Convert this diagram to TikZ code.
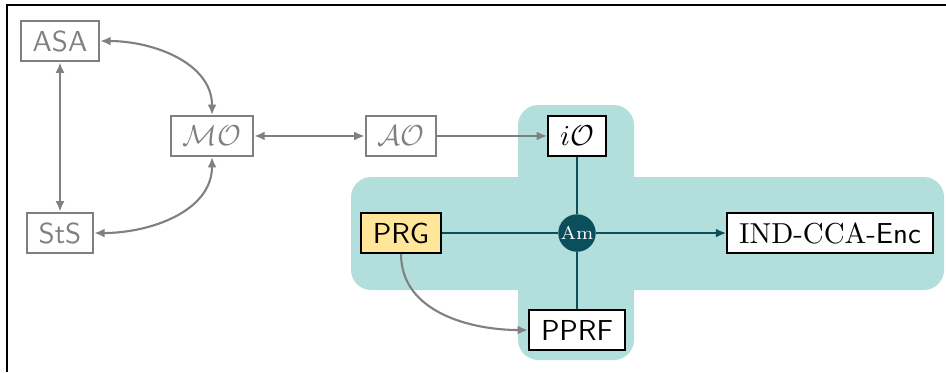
\documentclass[11pt,tikz,border=0pt]{standalone}
\usepackage{amsmath}
\usepackage{amssymb}
\usepackage{xcolor}
\usetikzlibrary{arrows.meta}

\definecolor{amteal}{HTML}{0B4F5C}
\definecolor{amback}{HTML}{B2DFDB}
\definecolor{prgyellow}{HTML}{FFE699}

\begin{document}
\begin{tikzpicture}[
  oldbox/.style={draw=gray, text=gray, thick, minimum height=0.53cm, inner xsep=4.5pt},
  newbox/.style={draw=black, fill=white, thick, minimum height=0.53cm, inner xsep=4.5pt},
  oldarrow/.style={gray, thick},
  amline/.style={amteal, thick},
  tip/.tip={Latex[length=4pt,width=3.4pt]}
]
\useasboundingbox (0,0) rectangle (12.613,4.96);
% Frame
\draw[black, line width=0.6pt] (0.093,0) -- (0.093,4.893) -- (12.613,4.893);
% Background cross
\fill[amback, rounded corners=0.27cm] (6.907,0.16) rectangle (8.453,3.56);
\fill[amback, rounded corners=0.27cm] (4.68,1.093) rectangle (12.587,2.6);
% Older notions
\node[oldbox] (asa) at (0.8,4.413) {\textsf{ASA}};
\node[oldbox] (sts) at (0.8,1.853) {\textsf{StS}};
\node[oldbox] (mo) at (2.827,3.147) {$\mathcal{MO}$};
\node[oldbox] (ao) at (5.347,3.147) {$\mathcal{AO}$};
% Primitives
\node[newbox] (io) at (7.693,3.147) {$i\mathcal{O}$};
\node[newbox, fill=prgyellow] (prg) at (5.347,1.853) {\textsf{PRG}};
\node[newbox] (pprf) at (7.693,0.56) {\textsf{PPRF}};
\node[newbox] (enc) at (11.067,1.853) {IND-CCA-\textsf{Enc}};
% Amplifier
\node[circle, fill=amteal, text=white, inner sep=0pt, minimum size=0.5cm,
  font=\fontsize{7}{8}\selectfont] (am) at (7.693,1.853) {Am};
% Gray implications
\draw[oldarrow, tip-tip] (asa.east) to[out=0, in=90] (mo.north);
\draw[oldarrow, tip-tip] (sts.east) to[out=0, in=-90] (mo.south);
\draw[oldarrow, tip-tip] (asa.south) -- (sts.north);
\draw[oldarrow, tip-tip] (mo.east) -- (ao.west);
\draw[oldarrow, -tip] (ao.east) -- (io.west);
\draw[oldarrow, -tip] (prg.south) to[out=-90, in=180] (pprf.west);
% Through the amplifier
\draw[amline] (io.south) -- (am);
\draw[amline] (am) -- (pprf.north);
\draw[amline] (prg.east) -- (am);
\draw[amline, -tip] (am) -- (enc.west);
\end{tikzpicture}
\end{document}
